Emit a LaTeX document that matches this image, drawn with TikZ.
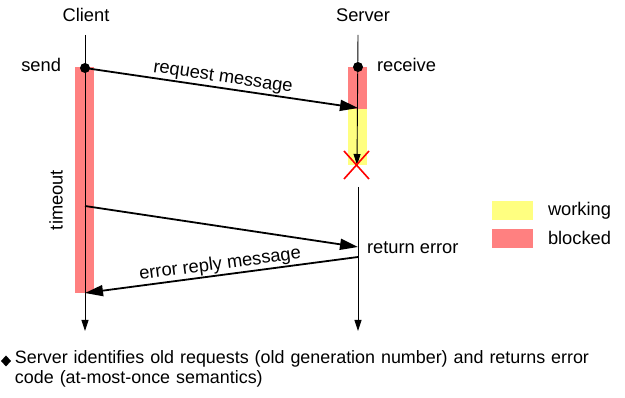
\documentclass[tikz,border=0pt]{standalone}
\usepackage{fontspec}
\setmainfont{Liberation Sans}
\usetikzlibrary{arrows.meta,shapes.geometric}

\definecolor{blockedred}{RGB}{255,128,128}
\definecolor{workyellow}{RGB}{255,255,128}

\begin{document}
\begin{tikzpicture}[x=1pt,y=-1pt,
  every node/.style={font=\fontsize{18.3}{21}\selectfont, inner sep=0pt, outer sep=0pt},
  lifeline/.style={line width=0.9pt, -{Triangle[length=11pt,width=7pt]}},
  msg/.style={line width=1.8pt, -{Triangle[length=18pt,width=11pt]}},
  dot/.style={circle, fill=black, minimum size=10pt}]
\useasboundingbox (0,0) rectangle (625,398);

% activity bars
\fill[blockedred] (75,67) rectangle (94,293);
\fill[blockedred] (348,67) rectangle (367,109);
\fill[workyellow] (348,109) rectangle (367,165);

% client side
\node (client) at (86,15) {Client};
\coordinate (c top) at (85,35);
\coordinate (c end) at (85,331);
\draw[lifeline] (c top) -- (c end);
\node[dot] (send) at (85,68) {};
\node[anchor=east] (send lbl) at (61,65) {send};
\coordinate (retry) at (85,206);
\coordinate (got reply) at (85,293);
\node[rotate=90] (timeout) at (56,200) {timeout};

% server side
\node (server) at (363,15) {Server};
\coordinate (s top) at (358,35);
\coordinate (crash) at (357,165);
\coordinate (s resume) at (358,187);
\coordinate (s end) at (358,331);
\draw[lifeline] (s top) -- (crash);
\draw[lifeline] (s resume) -- (s end);
\node[dot] (recv) at (358,67) {};
\node[anchor=west] (recv lbl) at (377,65) {receive};
\coordinate (req in) at (358,108);
\coordinate (req2 in) at (358,247);
\coordinate (err out) at (358,257);
\node[anchor=west] (ret lbl) at (367,248) {return error};

% server crash
\draw[red, line width=1.6pt] ([shift={(-13,-14)}]crash) -- ([shift={(12,14)}]crash)
  ([shift={(12,-14)}]crash) -- ([shift={(-13,14)}]crash);

% messages
\draw[msg] (send.center) -- node[sloped, above=2pt] {request message} (req in);
\draw[msg] (retry) -- (req2 in);
\draw[msg] (err out) -- node[sloped, above=2pt] {error reply message} (got reply);

% legend
\fill[workyellow] (492,201) rectangle (533,220);
\fill[blockedred] (492,229) rectangle (533,248);
\node[anchor=west] (working) at (548,211) {working};
\node[anchor=west] (blocked) at (548,238) {blocked};

% note
\node[diamond, fill=black, minimum width=10pt, minimum height=11pt] (bullet) at (6,361) {};
\node[anchor=north west, text width=595pt, align=left,
  font=\fontsize{17.9}{20}\selectfont] (note) at (15,351)
  {Server identifies old requests (old generation number) and returns error code (at-most-once semantics)};
\end{tikzpicture}
\end{document}
